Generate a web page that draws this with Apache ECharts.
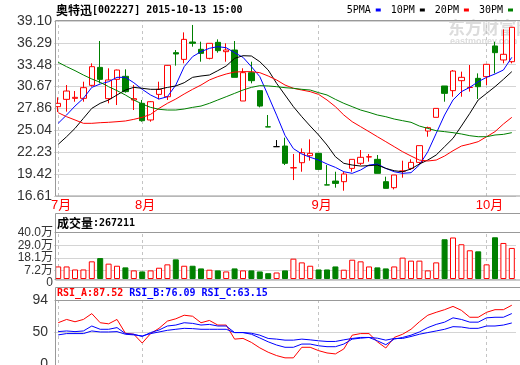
<!DOCTYPE html>
<html><head><meta charset="utf-8">
<script src="https://cdn.jsdelivr.net/npm/echarts@6/dist/echarts.min.js"></script>
<style>html,body{margin:0;padding:0;background:#fff}#c{width:520px;height:365px}</style>
</head><body><div id="c"></div>
<script>
const stockName = '奥特迅';
const stockCode = '002227';
const stamp = '2015-10-13 15:00';
const maNames = ['5PMA', '10PM', '20PM', '30PM'];
const mainTicks = [16.61, 19.42, 22.23, 25.04, 27.86, 30.67, 33.48, 36.29, 39.10];
const volTicks = [0, 72000, 181000, 290000, 400000];
const rsiTicks = [0, 50, 94];

const dates = ['2015-07-20','2015-07-21','2015-07-22','2015-07-23','2015-07-24','2015-07-27','2015-07-28','2015-07-29','2015-07-30','2015-07-31',
'2015-08-03','2015-08-04','2015-08-05','2015-08-06','2015-08-07','2015-08-10','2015-08-11','2015-08-12','2015-08-13','2015-08-14',
'2015-08-17','2015-08-18','2015-08-19','2015-08-20','2015-08-21','2015-08-24','2015-08-25','2015-08-26','2015-08-27','2015-08-28','2015-08-31',
'2015-09-01','2015-09-02','2015-09-07','2015-09-08','2015-09-09','2015-09-10','2015-09-11','2015-09-14','2015-09-15','2015-09-16',
'2015-09-17','2015-09-18','2015-09-21','2015-09-22','2015-09-23','2015-09-24','2015-09-25','2015-09-28','2015-09-29','2015-09-30',
'2015-10-08','2015-10-09','2015-10-12','2015-10-13'];

const open = [28.09, 29.03, 29.16, 29.16, 30.83, 33.14, 29.12, 31.60, 31.99, 28.95,
 28.52, 26.38, 29.67, 29.37, 35.03, 34.17, 36.40, 35.46, 34.30, 36.36,
 35.16, 35.37, 28.82, 32.46, 30.15, 25.50, 22.95, 23.03, 20.22, 20.89,
 21.79, 22.09, 18.04, 18.53, 18.45, 20.16, 20.81, 21.62, 21.32, 18.45,
 17.68, 19.80, 20.16, 20.93, 24.96, 26.72, 30.75, 30.15, 31.43, 30.55,
 31.73, 31.95, 35.89, 34.09, 33.87];
const close = [28.52, 30.10, 29.29, 30.53, 33.23, 31.60, 31.52, 32.80, 30.02, 29.12,
 26.29, 28.73, 30.32, 33.40, 34.86, 36.74, 36.23, 34.94, 36.23, 35.29,
 35.37, 31.86, 32.46, 31.43, 28.17, 25.48, 22.95, 20.81, 20.25, 22.18,
 22.09, 20.03, 18.02, 18.23, 19.43, 21.32, 21.58, 21.66, 19.52, 17.59,
 19.31, 19.82, 20.93, 23.08, 25.39, 27.87, 29.80, 32.67, 31.86, 30.57,
 30.66, 33.53, 35.03, 34.82, 38.29];
const low = [27.40, 27.45, 28.73, 28.73, 30.66, 31.09, 28.52, 28.30, 29.89, 27.66,
 26.16, 26.16, 29.03, 28.95, 33.36, 33.66, 35.80, 33.87, 34.17, 35.03,
 33.87, 31.86, 28.82, 31.09, 28.00, 25.48, 22.95, 20.59, 18.66, 19.73,
 21.15, 19.95, 18.02, 17.68, 17.29, 19.73, 20.59, 21.02, 19.52, 17.59,
 17.46, 18.96, 19.95, 20.72, 24.23, 26.72, 28.73, 29.37, 29.37, 30.02,
 29.07, 30.87, 32.37, 33.66, 33.66];
const high = [29.29, 30.87, 30.10, 31.30, 33.66, 36.53, 33.02, 32.85, 32.89, 30.87,
 28.95, 28.82, 31.30, 33.44, 35.37, 37.64, 38.59, 36.44, 36.23, 36.74,
 36.23, 36.53, 33.02, 33.87, 30.20, 27.02, 23.80, 24.10, 22.01, 22.73,
 23.89, 22.09, 20.59, 19.73, 19.73, 21.32, 22.52, 22.01, 21.88, 19.09,
 19.31, 21.15, 21.32, 23.08, 25.52, 27.87, 30.75, 32.80, 32.59, 33.44,
 32.37, 33.53, 36.44, 38.03, 38.29];

const ma5 = [25.95, 27.02, 28.17, 29.16, 30.57, 31.00, 31.30, 31.86, 31.86, 31.17,
 30.32, 29.59, 29.07, 29.37, 30.87, 33.23, 34.52, 35.16, 35.59, 35.80,
 35.67, 35.03, 34.43, 33.23, 31.95, 29.50, 27.00, 24.40, 22.70, 22.01,
 21.58, 21.23, 20.72, 20.29, 19.73, 19.52, 19.95, 20.59, 20.72, 20.16,
 19.73, 19.52, 19.61, 20.59, 22.30, 24.66, 27.02, 28.95, 30.02, 30.57,
 31.30, 31.86, 32.29, 32.80, 34.43];
const ma10 = [23.25, 24.23, 25.30, 26.59, 27.87, 28.52, 28.95, 29.59, 30.23, 30.57,
 30.45, 30.32, 30.32, 30.57, 30.75, 31.17, 31.86, 32.03, 32.16, 32.72,
 33.32, 34.30, 34.64, 34.60, 33.87, 32.80, 31.09, 29.59, 28.09, 26.80,
 25.60, 24.45, 23.16, 21.66, 20.81, 20.59, 20.46, 20.51, 20.59, 20.16,
 19.86, 19.73, 20.08, 20.72, 21.23, 21.88, 22.95, 24.02, 25.60, 27.23,
 28.95, 29.80, 30.66, 31.60, 32.59];
const ma20 = [27.32, 26.80, 26.38, 25.95, 25.95, 26.03, 26.08, 26.16, 26.25, 26.46,
 26.72, 27.10, 27.87, 28.52, 29.07, 29.72, 30.32, 30.87, 31.52, 31.95,
 32.29, 32.54, 32.59, 32.59, 32.46, 32.03, 31.52, 30.87, 30.45, 30.23,
 30.02, 29.67, 28.95, 28.09, 27.02, 26.16, 25.52, 24.88, 24.23, 23.59,
 22.95, 22.30, 21.75, 21.23, 21.11, 21.23, 21.75, 22.43, 23.03, 23.29,
 23.59, 24.23, 24.88, 25.86, 26.72];
const ma30 = [33.79, 33.23, 32.72, 32.16, 31.65, 31.22, 30.66, 30.15, 29.59, 28.95,
 28.43, 28.00, 27.75, 27.66, 27.66, 27.79, 28.00, 28.17, 28.52, 28.95,
 29.37, 29.80, 30.23, 30.57, 30.79, 30.75, 30.66, 30.53, 30.45, 30.32,
 30.23, 29.89, 29.59, 29.03, 28.52, 28.09, 27.66, 27.36, 27.02, 26.80,
 26.50, 26.29, 26.08, 25.60, 25.30, 25.00, 24.88, 24.75, 24.58, 24.36,
 24.23, 24.23, 24.45, 24.53, 24.75];

const vol = [108000, 108000, 82000, 82000, 152000, 180000, 132000, 114000, 100000, 74000,
 65000, 74000, 97000, 126000, 169000, 114000, 114000, 91000, 80000, 74000,
 65000, 91000, 74000, 74000, 65000, 50000, 56000, 74000, 175000, 143000,
 114000, 82000, 82000, 108000, 80000, 166000, 152000, 108000, 100000, 91000,
 108000, 184000, 158000, 158000, 74000, 143000, 342000, 357000, 299000, 247000,
 238000, 126000, 359000, 310000, 267211];

const rsiA = [63.5, 68, 64.8, 68, 76, 63.5, 62, 68, 49, 47.7,
 35.6, 48.6, 55.8, 65.7, 68.9, 73.8, 72.4, 63.5, 66.6, 60.3,
 60.3, 41, 42, 36.5, 29, 23, 18.4, 15.3, 15.3, 29.8,
 29.8, 25.2, 22, 20.7, 27.5, 46.4, 48.6, 48.6, 37.3, 28.8,
 43.3, 47.7, 54.5, 64.8, 73.8, 77.8, 81.4, 85.9, 80.5, 71,
 71, 77.8, 81.4, 81.4, 87.52];
const rsiB = [51.3, 52.2, 51.3, 52.2, 59, 54.5, 54.5, 56.8, 48.6, 47.7,
 44.6, 50, 53.5, 59, 60.3, 63.5, 62.6, 60.3, 61.2, 59,
 59, 50, 50, 47.7, 42.6, 37.3, 32.9, 29.8, 29.8, 34.2,
 34.2, 31.9, 30.6, 30.6, 34.2, 41, 42.3, 43.3, 38.7, 33.3,
 41, 43.3, 46.4, 50.8, 56.8, 61.2, 64.3, 70.2, 68, 64.3,
 64.3, 70.2, 71, 71, 76.09];
const rsiC = [46.8, 48.6, 48.6, 48.6, 52.2, 50.8, 50.8, 51.3, 47.7, 46.8,
 45.4, 48.6, 50.8, 53.1, 54.5, 55.8, 55.4, 54.5, 54.5, 54.5,
 54.5, 50, 50, 49.1, 46.4, 41.9, 41, 39.6, 39.6, 41,
 40, 38.7, 37.8, 37.8, 40, 41.9, 43.3, 43.3, 42.3, 39.6,
 41.9, 41.9, 44.6, 47.7, 50, 52.2, 54.5, 58.1, 57.6, 55.8,
 55.8, 59, 59, 60.3, 63.15];

const RED = '#ff0000', GREEN = '#008000', BLUE = '#0000ff', BLACK = '#000000';
const maColors = [BLUE, BLACK, RED, GREEN];
const maData = [ma5, ma10, ma20, ma30];
const numFont = "'Liberation Sans Narrow','Liberation Sans','Noto Sans CJK SC',sans-serif";
const monoFont = "'DejaVu Sans Mono','Liberation Mono',monospace";
const cjkFont = "'Noto Sans CJK SC',sans-serif";

const monthStarts = dates.map((d, i) => (i === 0 || d.slice(5, 7) !== dates[i - 1].slice(5, 7)) ? i : -1).filter(i => i >= 0);
const monthLines = {
  z: 1, silent: true, symbol: ['none', 'none'], animation: false,
  label: { show: false },
  lineStyle: { color: '#c4c4c4', type: [3, 3], width: 1 },
  data: monthStarts.map(i => ({ xAxis: dates[i] }))
};

const splitStyle = { show: true, lineStyle: { color: '#d4d4d4', width: 1 } };
function xAx(gridIndex, showLabel) {
  return {
    type: 'category', gridIndex, data: dates, boundaryGap: true,
    axisLine: { show: false }, axisTick: { show: false }, splitLine: { show: false },
    axisLabel: showLabel ? {
      show: true, interval: (idx) => monthStarts.indexOf(idx) >= 0,
      formatter: (v) => parseInt(v.slice(5, 7), 10) + '月',
      color: RED, fontSize: 13, fontFamily: numFont, margin: 3, padding: [0, 0, 0, 6]
    } : { show: false }
  };
}

const candleData = dates.map((d, i) => [open[i], close[i], low[i], high[i]]);
const volData = vol.map((v, i) => ({
  value: v,
  itemStyle: close[i] >= open[i]
    ? { color: '#ffffff', borderColor: RED, borderWidth: 1 }
    : { color: GREEN, borderColor: GREEN, borderWidth: 1 }
}));

const chart = echarts.init(document.getElementById('c'), null, { renderer: 'canvas' });
chart.setOption({
  animation: false,
  backgroundColor: '#ffffff',
  title: [
    { left: 56, top: 2, padding: 0,
      text: '{cn|' + stockName + '}{en|[' + stockCode + '] ' + stamp + '}',
      textStyle: { rich: {
        cn: { fontFamily: cjkFont, fontSize: 12, color: '#000', lineHeight: 16 },
        en: { fontFamily: monoFont, fontSize: 10, color: '#000', lineHeight: 16 } } } },
    { left: 57, top: 215, padding: 0,
      text: '{cn|成交量}{en|:' + Math.round(vol[vol.length - 1]) + '}',
      textStyle: { rich: {
        cn: { fontFamily: cjkFont, fontSize: 12, color: '#000', lineHeight: 16 },
        en: { fontFamily: monoFont, fontSize: 10, color: '#000', lineHeight: 16 } } } },
    { left: 57, top: 286, padding: 0,
      text: '{a|RSI_A:' + rsiA[rsiA.length - 1].toFixed(2) + '} {b|RSI_B:' + rsiB[rsiB.length - 1].toFixed(2) + '} {c|RSI_C:' + rsiC[rsiC.length - 1].toFixed(2) + '}',
      textStyle: { fontFamily: monoFont, fontSize: 10, lineHeight: 14, rich: {
        a: { fontFamily: monoFont, fontSize: 10, color: RED, lineHeight: 14 },
        b: { fontFamily: monoFont, fontSize: 10, color: BLUE, lineHeight: 14 },
        c: { fontFamily: monoFont, fontSize: 10, color: BLUE, lineHeight: 14 } } } }
  ],
  legend: {
    data: maNames, right: 7, top: 3, align: 'right', icon: 'rect',
    itemWidth: 5, itemHeight: 3, itemGap: 10, selectedMode: false, padding: 0,
    textStyle: { fontFamily: monoFont, fontSize: 10, color: '#000', lineHeight: 14 }
  },
  grid: [
    { left: 54, right: 4, top: 21, bottom: 169, outerBoundsMode: 'none', containLabel: false },
    { left: 54, right: 4, top: 232.5, bottom: 86, outerBoundsMode: 'none', containLabel: false },
    { left: 54, right: 4, top: 300.5, bottom: -4, outerBoundsMode: 'none', containLabel: false }
  ],
  xAxis: [xAx(0, true), xAx(1, false), xAx(2, false)],
  yAxis: [
    { type: 'value', gridIndex: 0, min: mainTicks[0], max: mainTicks[mainTicks.length - 1],
      axisLine: { show: false }, axisTick: { show: false, customValues: mainTicks },
      axisLabel: { customValues: mainTicks, formatter: v => v.toFixed(2), color: '#333', fontSize: 14, fontFamily: numFont, margin: 2, showMinLabel: true, showMaxLabel: true },
      splitLine: splitStyle },
    { type: 'value', gridIndex: 1, min: volTicks[0], max: volTicks[volTicks.length - 1],
      axisLine: { show: false }, axisTick: { show: false, customValues: volTicks },
      axisLabel: { customValues: volTicks, interval: 0, formatter: v => v === 0 ? '0' : (v / 10000).toFixed(1) + '万', color: '#333', fontSize: 12, lineHeight: 8, fontFamily: numFont, margin: 1, showMinLabel: true, showMaxLabel: true, hideOverlap: false, verticalAlignMinLabel: 'top' },
      splitLine: splitStyle },
    { type: 'value', gridIndex: 2, min: rsiTicks[0], max: rsiTicks[rsiTicks.length - 1],
      axisLine: { show: false }, axisTick: { show: false, customValues: rsiTicks },
      axisLabel: { customValues: rsiTicks, color: '#333', fontSize: 14, lineHeight: 10, fontFamily: numFont, margin: 6, showMinLabel: true, showMaxLabel: true, verticalAlignMinLabel: 'bottom' },
      splitLine: splitStyle }
  ],
  series: [
    { type: 'candlestick', name: 'K', xAxisIndex: 0, yAxisIndex: 0, data: candleData, barWidth: 6, z: 2,
      itemStyle: { color: '#ffffff', color0: GREEN, borderColor: RED, borderColor0: GREEN, borderColorDoji: BLACK, borderWidth: 1 },
      markLine: monthLines },
    ...maNames.map((n, k) => ({
      type: 'line', name: n, xAxisIndex: 0, yAxisIndex: 0, data: maData[k], symbol: 'none', z: 3, silent: true,
      lineStyle: { width: 1, color: maColors[k] }, itemStyle: { color: maColors[k] }
    })),
    { type: 'bar', name: 'VOL', xAxisIndex: 1, yAxisIndex: 1, data: volData, barWidth: 6, z: 2, markLine: monthLines },
    { type: 'line', name: 'RSI_A', xAxisIndex: 2, yAxisIndex: 2, data: rsiA, symbol: 'none', lineStyle: { width: 1, color: RED }, z: 3, markLine: monthLines },
    { type: 'line', name: 'RSI_B', xAxisIndex: 2, yAxisIndex: 2, data: rsiB, symbol: 'none', lineStyle: { width: 1, color: BLUE }, z: 3 },
    { type: 'line', name: 'RSI_C', xAxisIndex: 2, yAxisIndex: 2, data: rsiC, symbol: 'none', lineStyle: { width: 1, color: BLUE }, z: 3 }
  ],
  graphic: [
    { type: 'text', left: 448, top: 19, z: 0, silent: true,
      style: { text: '东方财富网', font: "bold 17px 'Noto Sans CJK SC'", fill: '#dcdcdc' } },
    { type: 'text', left: 450, top: 37, z: 0, silent: true,
      style: { text: 'eastmoney.com', font: "bold 9px 'Liberation Sans'", fill: '#dcdcdc' } },
    { type: 'rect', z: 100, silent: true, shape: { x: 55.5, y: 20.5, width: 470, height: 175.5 }, style: { fill: null, stroke: '#999', lineWidth: 1 } },
    { type: 'rect', z: 100, silent: true, shape: { x: 55.5, y: 213.5, width: 470, height: 66.5 }, style: { fill: null, stroke: '#999', lineWidth: 1 } },
    { type: 'line', z: 100, silent: true, shape: { x1: 55.5, y1: 232.5, x2: 521, y2: 232.5 }, style: { stroke: '#999', lineWidth: 1 } },
    { type: 'rect', z: 100, silent: true, shape: { x: 55.5, y: 287.5, width: 470, height: 90 }, style: { fill: null, stroke: '#999', lineWidth: 1 } },
    { type: 'line', z: 100, silent: true, shape: { x1: 55.5, y1: 300.5, x2: 521, y2: 300.5 }, style: { stroke: '#999', lineWidth: 1 } }
  ]
});
</script></body></html>
